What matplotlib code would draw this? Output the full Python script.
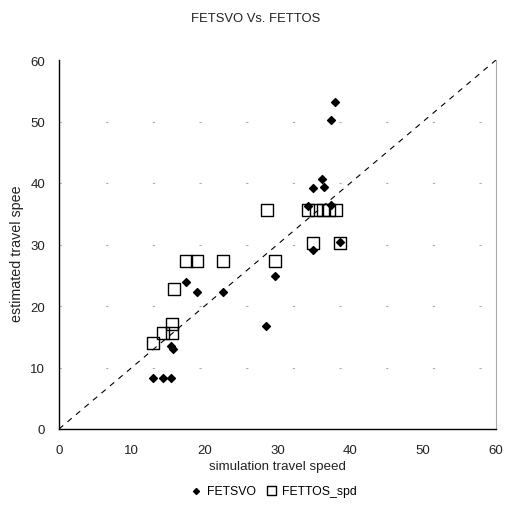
import matplotlib
matplotlib.use("Agg")
import matplotlib.pyplot as plt
from matplotlib.transforms import Bbox

plt.rcParams["font.family"] = ["Liberation Sans", "DejaVu Sans"]

title = "FETSVO Vs. FETTOS"
xlabel = "simulation travel speed"
ylabel = "estimated travel speed"
ticks = [0, 10, 20, 30, 40, 50, 60]

fetsvo_x = [37.9, 37.3, 36.1, 34.9, 36.4, 34.2, 37.4, 34.9, 38.6, 29.7, 28.4,
            17.4, 19.0, 22.5, 15.4, 15.6, 12.9, 14.3, 15.4]
fetsvo_y = [53.2, 50.2, 40.6, 39.2, 39.4, 36.3, 36.4, 29.1, 30.4, 24.9, 16.8,
            23.9, 22.3, 22.3, 13.5, 13.0, 8.3, 8.3, 8.3]

fettos_x = [28.6, 34.2, 35.3, 36.3, 37.1, 38.0, 34.9, 38.6, 29.7,
            17.4, 19.0, 22.5, 15.8, 15.5, 14.3, 15.5, 12.9]
fettos_y = [35.6, 35.6, 35.6, 35.6, 35.6, 35.6, 30.2, 30.2, 27.3,
            27.3, 27.3, 27.3, 22.8, 17.1, 15.6, 15.6, 14.0]

W, H = 509, 510
fig = plt.figure(figsize=(W / 100, H / 100), dpi=100)
ax = fig.add_axes([59 / W, 1 - 430 / H, (496 - 59) / W, (430 - 61) / H])

for gy in [10, 20, 30, 40, 50]:
    ax.axhline(gy, color="#aaaaaa", lw=0.8, linestyle=(0, (2, 40)), zorder=0)

ax.plot([0, 60], [0, 60], color="black", lw=0.8, linestyle=(0, (5, 5)), zorder=1)

ax.scatter(fetsvo_x, fetsvo_y, marker="D", s=16, color="black", zorder=3, label="FETSVO")
ax.scatter(fettos_x, fettos_y, marker="s", s=72, facecolors="none",
           edgecolors="black", linewidths=1.0, zorder=2, label="FETTOS_spd")

ax.set_xlim(0, 60)
ax.set_ylim(0, 60)
ax.set_xticks(ticks)
ax.set_yticks(ticks)
ax.tick_params(axis="x", length=0, labelsize=9.5, pad=11, colors="#222222")
ax.tick_params(axis="y", length=0, labelsize=9.5, pad=10, colors="#222222")

ax.spines["top"].set_visible(False)
ax.spines["right"].set_color("#aaaaaa")
ax.spines["right"].set_linewidth(0.8)
ax.spines["left"].set_linewidth(1.0)
ax.spines["bottom"].set_linewidth(1.0)

fig.text(0.5 * (59 + 496) / W, 1 - 467 / H, xlabel, ha="center", va="center",
         fontsize=9.6, color="#222222")

yl = fig.text(17 / W, 1 - 322 / H, ylabel, rotation=90, ha="center", va="bottom",
              fontsize=10.3, color="#222222")
yl.set_clip_on(True)
yl.set_clip_box(Bbox.from_extents(0, 0, W, H - 187))

fig.text(256 / W, 1 - 19 / H, title, ha="center", va="center", fontsize=9.4,
         color="#222222")

leg = ax.legend(loc="center", bbox_to_anchor=(274 / W, 1 - 492 / H),
                bbox_transform=fig.transFigure, ncol=2, frameon=False,
                fontsize=8.8, handletextpad=0.45, columnspacing=0.9,
                markerscale=0.75, handlelength=0.8, borderpad=0, borderaxespad=0)

fig.savefig("out.png", dpi=100)
